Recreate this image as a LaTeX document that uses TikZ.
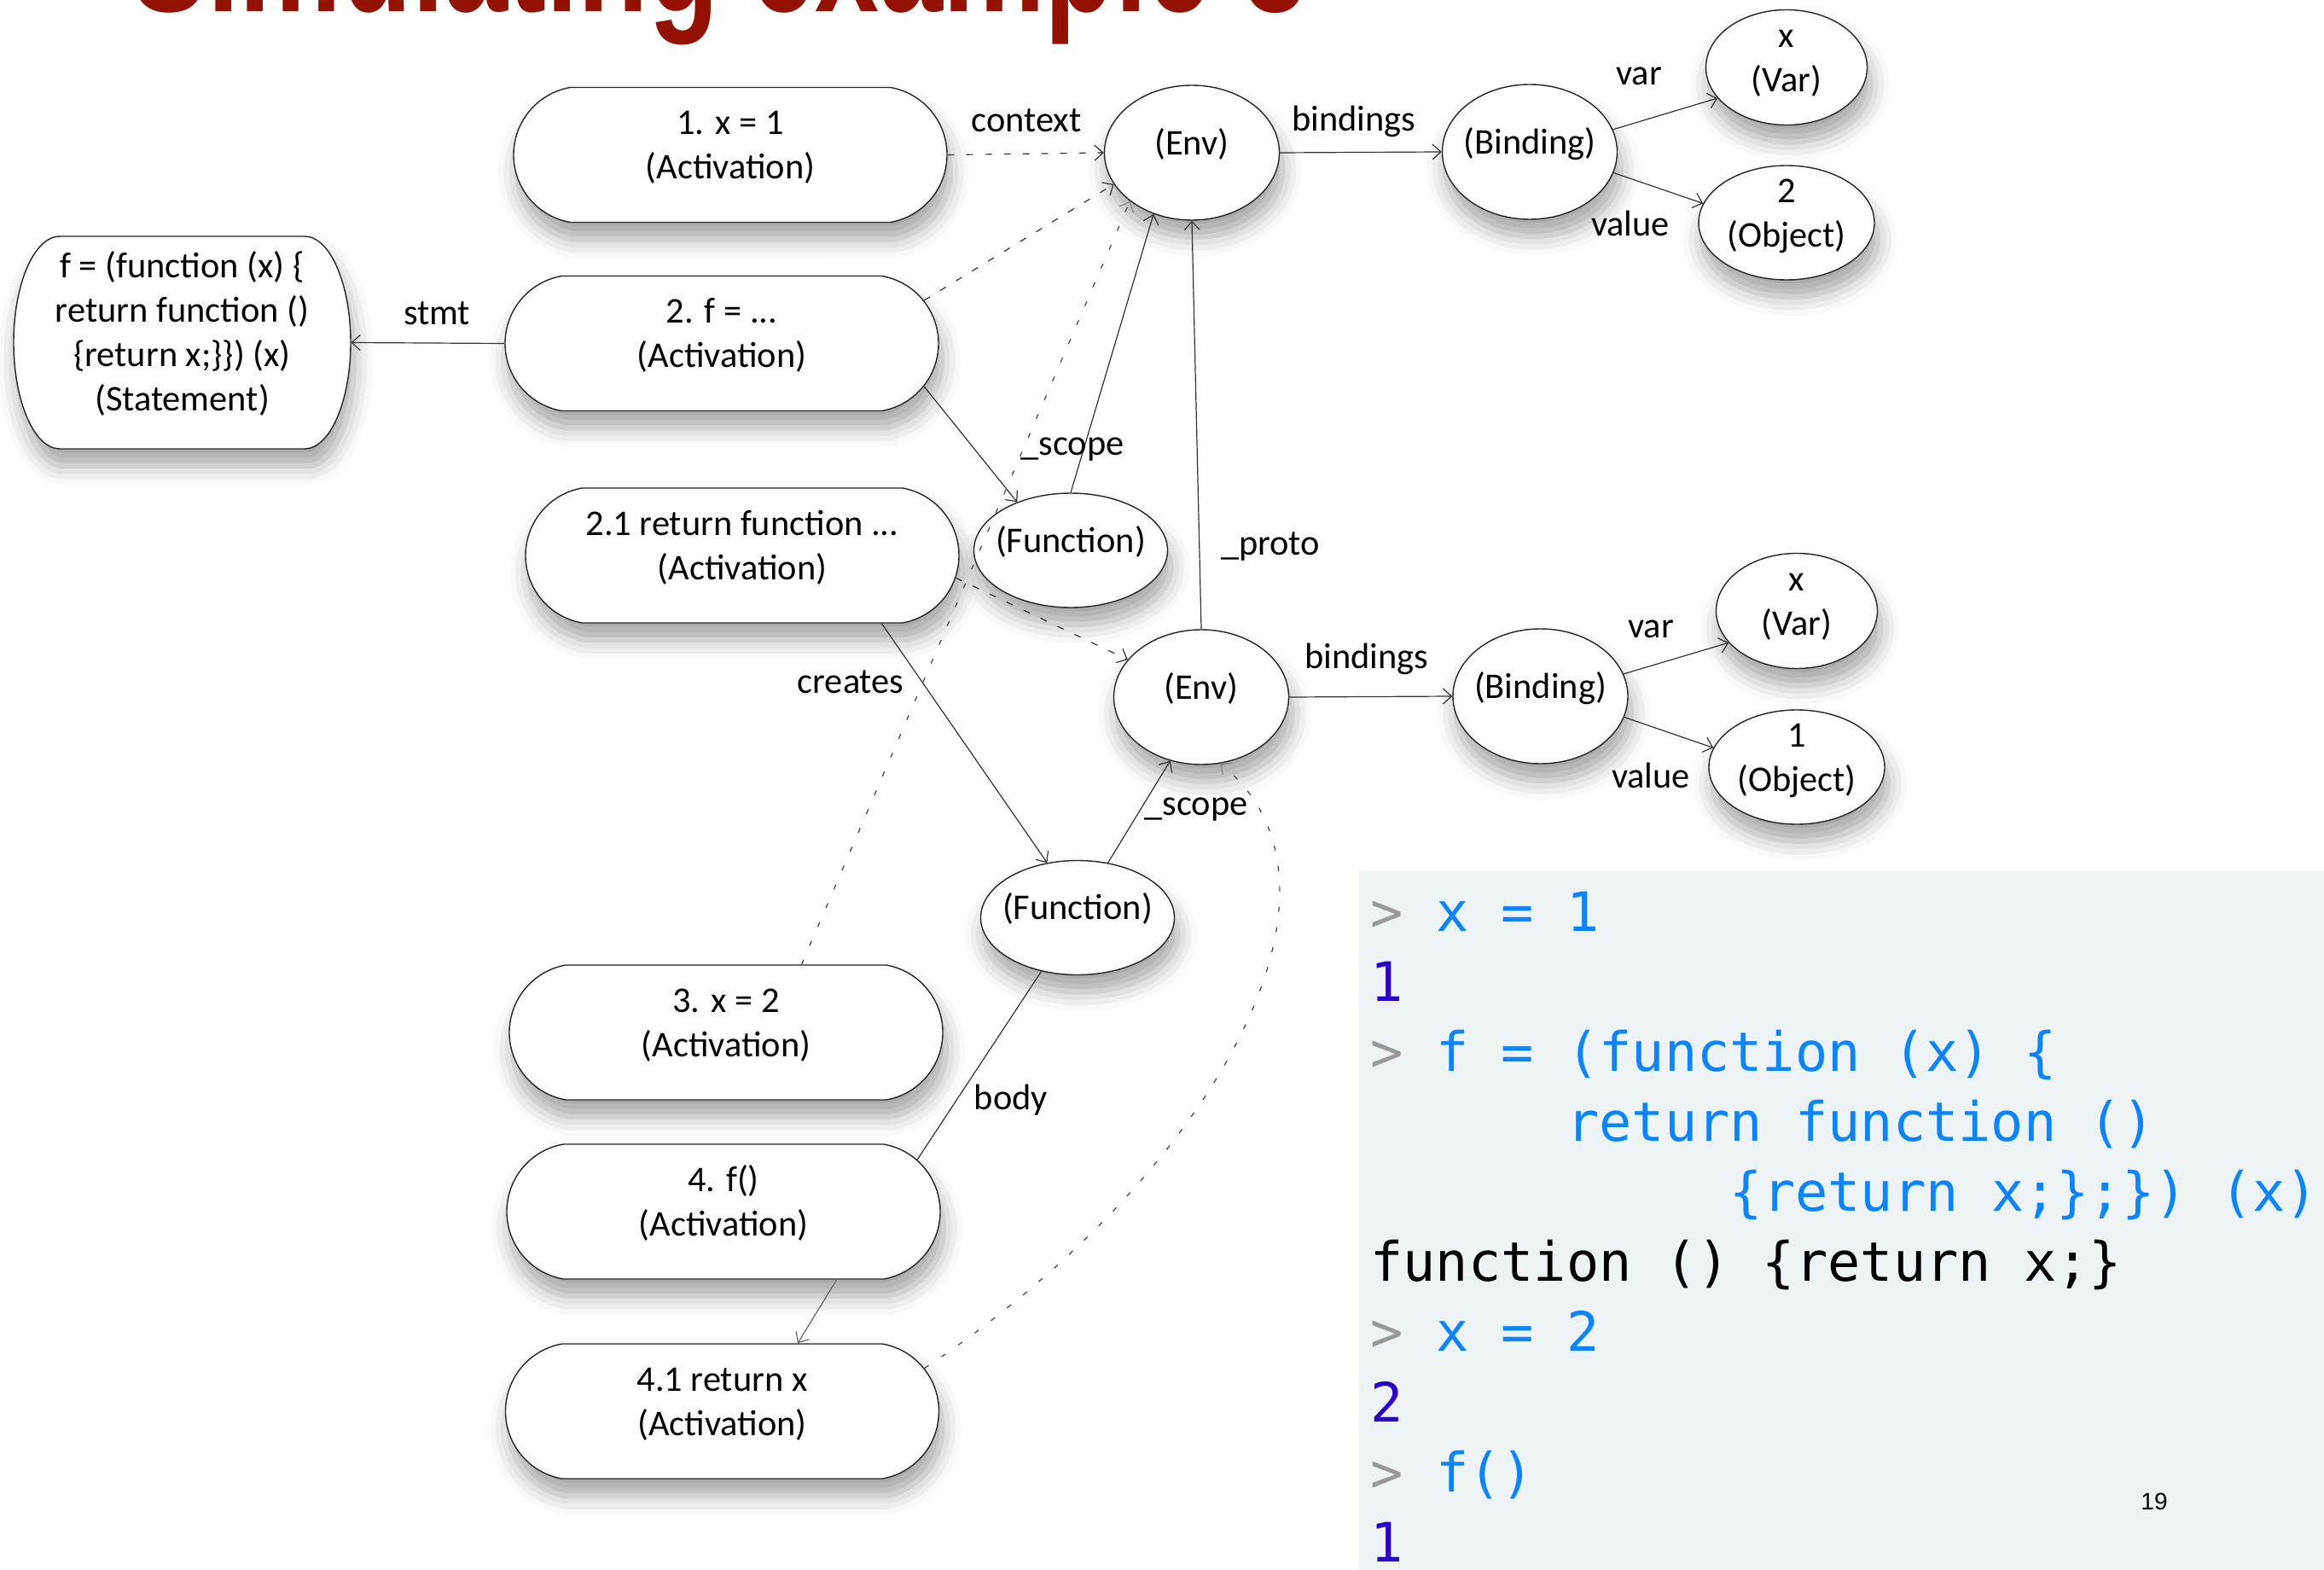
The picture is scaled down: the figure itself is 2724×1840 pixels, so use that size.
\documentclass[tikz,border=0pt]{standalone}
\usepackage{fontspec}
\setmainfont{Carlito}
\setmonofont{DejaVu Sans Mono}
\newfontfamily\titlefont{Liberation Sans}
\newfontfamily\pnfont{Liberation Sans}
\usetikzlibrary{shapes.geometric,shapes.misc,arrows.meta,shadows.blur}
\definecolor{tred}{HTML}{931100}
\definecolor{cgray}{HTML}{999999}
\definecolor{cblue}{HTML}{0A84FF}
\definecolor{cdark}{HTML}{2A00CC}
\definecolor{panel}{HTML}{EEF3F6}
\newcommand\nt[1]{\makebox[0pt]{\smash{\raisebox{-1pt}{\begin{tabular}[c]{@{}c@{}}#1\end{tabular}}}}}
\begin{document}
\begin{tikzpicture}[x=0.5pt,y=-0.5pt,
  font=\fontsize{21.2}{26}\selectfont,
  shad/.style={blur shadow={shadow xshift=2pt, shadow yshift=-10pt, shadow blur radius=11pt, shadow opacity=35}},
  act/.style={rounded rectangle, rounded rectangle arc length=160, draw=black!85, line width=0.7pt, fill=white, minimum width=254pt, minimum height=79pt, inner sep=0pt, shad},
  stmtbox/.style={rectangle, minimum width=197.5pt, minimum height=124.5pt, inner sep=0pt},
  ell/.style={ellipse, draw=black!85, line width=0.7pt, fill=white, inner sep=0pt, shad},
  big/.style={minimum width=102.5pt, minimum height=79pt},
  fn/.style={minimum width=113.5pt, minimum height=67pt},
  sml/.style={minimum width=94.5pt, minimum height=67.5pt},
  obj/.style={minimum width=103pt, minimum height=67pt},
  lbl/.style={inner sep=0pt, anchor=base},
  code/.style={inner sep=0pt, anchor=base west, font=\fontsize{31.8}{40}\selectfont\ttfamily},
  sedge/.style={draw=black!80, line width=0.6pt, -{Straight Barb[length=5pt,width=9pt]}},
  dedge/.style={draw=black!80, line width=0.6pt, dash pattern=on 4pt off 7pt, -{Straight Barb[length=5pt,width=9pt]}},
  dedgeg/.style={draw=black!75, line width=0.6pt, dash pattern=on 3pt off 9pt, -{Straight Barb[length=5pt,width=9pt,color=black!45]}},
  plain/.style={draw=black!80, line width=0.6pt}
]
\useasboundingbox (0,0) rectangle (2724,1840);

% title (cut off at the top)
\node[anchor=base west, inner sep=0pt, text=tred] (title) at (153,14)
  {\scalebox{0.725}[1]{\fontsize{93}{100}\selectfont\titlefont\bfseries Simulating example 3}};

% code panel
\fill[panel] (1593,1021) rectangle (2724,1840);

% statement outline: flat top and bottom, half-elliptic sides
\path[draw=black!85, line width=0.7pt, fill=white, shad]
  (70,277) -- (357,277) arc[start angle=90, end angle=-90, x radius=27pt, y radius=62.25pt]
  -- (70,526) arc[start angle=270, end angle=90, x radius=27pt, y radius=62.25pt] -- cycle;

% activation and statement nodes
\node[act] (a1) at (856,181.5) {\nt{1. x = 1\\(Activation)}};
\node[act] (a2) at (846,402.5) {\nt{2. f = ...\\(Activation)}};
\node[act] (a21) at (870,651) {\nt{2.1 return function ...\\(Activation)}};
\node[act] (a3) at (851,1210) {\nt{3. x = 2\\(Activation)}};
\node[act] (a4) at (848,1420) {\nt{4. f()\\(Activation)}};
\node[act] (a41) at (846.5,1654) {\nt{4.1 return x\\(Activation)}};
\node[stmtbox] (stmt) at (213.5,401.5) {\nt{f = (function (x) \{\\return function ()\\\{return x;\}\}) (x)\\(Statement)}};

% object nodes
\node[ell,big] (env1) at (1397,179) {\nt{(Env)}};
\node[ell,big] (bind1) at (1793,178) {\nt{(Binding)}};
\node[ell,sml] (var1) at (2094,79) {\nt{x\\(Var)}};
\node[ell,obj] (obj1) at (2094,261) {\nt{2\\(Object)}};
\node[ell,fn] (fun1) at (1255,645) {\nt{(Function)}};
\node[ell,big] (env2) at (1408,817) {\nt{(Env)}};
\node[ell,big] (bind2) at (1805.5,816) {\nt{(Binding)}};
\node[ell,sml] (var2) at (2106,716) {\nt{x\\(Var)}};
\node[ell,obj] (obj2) at (2106,899) {\nt{1\\(Object)}};
\node[ell,fn] (fun2) at (1263,1075.5) {\nt{(Function)}};

% connectors
\draw[dedge] (a1.east) -- (env1.west);
\draw[dedge] (a2.12) -- (env1.202);
\draw[sedge] (a2.west) -- (stmt.east);
\draw[sedge] (a2.-12) -- (fun1.138);
\draw[sedge] (fun1.north) -- (env1.238);
\draw[sedge] (env2.north) -- (env1.south);
\draw[dedgeg] (a3.42) -- (env1.218);
\draw[dedge] (a21.-6) -- (env2.153);
\draw[sedge] (a21.-26) -- (fun2.119);
\draw[sedge] (fun2.61) -- (env2.244);
\draw[plain] (fun2.236) -- (a4.15);
\draw[sedge,draw=black!60] (a4.-31) -- (a41.42);
\draw[dedgeg] (a41.12) .. controls (1420,1380) and (1610,1040) .. (env2.286);
\draw[sedge] (env1.east) -- (bind1.west);
\draw[sedge] (bind1.15) -- (var1.204);
\draw[sedge] (bind1.-14) -- (obj1.167);
\draw[sedge] (env2.east) -- (bind2.west);
\draw[sedge] (bind2.15) -- (var2.205);
\draw[sedge] (bind2.-14) -- (obj2.167);

% connector labels
\node[lbl] (lcontext) at (1203,155) {context};
\node[lbl] (lbind1) at (1587,154) {bindings};
\node[lbl] (lvar1) at (1921,100) {var};
\node[lbl] (lval1) at (1911,277) {value};
\node[lbl] (lstmt) at (512,380) {stmt};
\node[lbl] (lscope1) at (1257,533) {\_scope};
\node[lbl] (lproto) at (1489,650) {\_proto};
\node[lbl] (lbind2) at (1602,783) {bindings};
\node[lbl] (lvar2) at (1935,747) {var};
\node[lbl] (lval2) at (1935,923) {value};
\node[lbl] (lcreates) at (997,812) {creates};
\node[lbl] (lscope2) at (1402,955) {\_scope};
\node[lbl] (lbody) at (1185,1300) {body};

% console text
\node[code] (c1) at (1606,1091) {\textcolor{cgray}{>} \textcolor{cblue}{x = 1}};
\node[code,text=cdark] (c2) at (1606,1173) {1};
\node[code] (c3) at (1606,1255) {\textcolor{cgray}{>} \textcolor{cblue}{f = (function (x) \{}};
\node[code,text=cblue] (c4) at (1835.8,1337) {return function ()};
\node[code,text=cblue] (c5) at (2027.3,1419) {\{return x;\};\}) (x)};
\node[code,text=black] (c6) at (1606,1501) {function () \{return x;\}};
\node[code] (c7) at (1606,1583) {\textcolor{cgray}{>} \textcolor{cblue}{x = 2}};
\node[code,text=cdark] (c8) at (1606,1666) {2};
\node[code] (c9) at (1606,1748) {\textcolor{cgray}{>} \textcolor{cblue}{f()}};
\node[code,text=cdark] (c10) at (1606,1830) {1};

% page number
\node[inner sep=0pt, anchor=base, font=\pnfont\fontsize{14}{16}\selectfont] (pnum) at (2525,1769) {19};
\end{tikzpicture}
\end{document}
